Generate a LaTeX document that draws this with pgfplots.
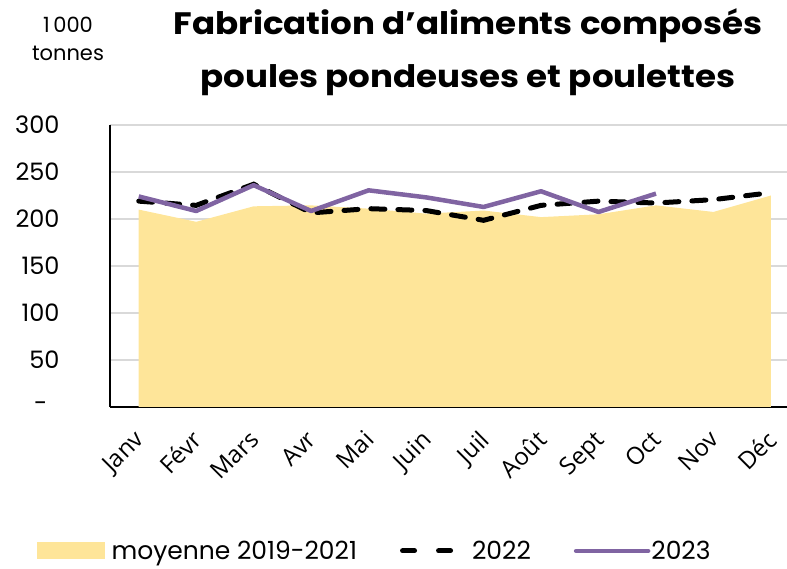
\documentclass[border=0pt]{standalone}
\usepackage{fontspec}
\setmainfont{Poppins}
\newfontfamily\opensans{Open Sans}
\usepackage{pgfplots}
\pgfplotsset{compat=1.18}
\definecolor{avgyellow}{HTML}{FEE599}
\definecolor{purp}{HTML}{8064A2}
\definecolor{gridgray}{HTML}{D9D9D9}
\begin{document}
\begin{tikzpicture}[x=1pt,y=1pt]
\begin{axis}[
  at={(110pt,162pt)}, anchor=south west,
  scale only axis, width=677pt, height=282pt,
  xmin=-0.5, xmax=11.28, ymin=0, ymax=300,
  axis lines*=left,
  axis line style={black, line width=1.5pt},
  x axis line style={-}, y axis line style={-},
  ytick={0,50,100,150,200,250,300},
  yticklabels={{-\hspace*{12pt}},50,100,150,200,250,300},
  ymajorgrids, grid style={gridgray, line width=1.2pt},
  xtick={0,...,11},
  xticklabels={Janv,Févr,Mars,Avr,Mai,Juin,Juil,Août,Sept,Oct,Nov,Déc},
  x tick label style={rotate=45, anchor=north east, font=\opensans\fontsize{24}{27}\selectfont, xshift=-16pt, yshift=-8pt},
  y tick label style={font=\fontsize{24}{28}\selectfont, xshift=-47pt, anchor=east},
  major tick length=0pt,
  /pgf/number format/assume math mode=true,
  legend columns=3,
  legend style={at={(0.39,-0.51)}, anchor=center, draw=none, fill=none,
    font=\fontsize{25}{28}\selectfont, nodes={inner sep=1pt},
    /tikz/every even column/.append style={column sep=42pt}},
]
\addplot[fill=avgyellow, draw=none, area legend,
  legend image code/.code={\fill[avgyellow] (0pt,-8.5pt) rectangle (68pt,8.5pt);}]
  coordinates {(0,210) (1,197) (2,213.5) (3,214.5) (4,211) (5,205.7) (6,209) (7,202) (8,205) (9,214.5) (10,207.5) (11,225)}
  \closedcycle;
\addlegendentry{\hspace{6pt}moyenne 2019-2021}
\addplot[black, line width=5pt, dash pattern=on 14pt off 13pt, line cap=round,
  legend image code/.code={\draw[black, line width=5pt, line cap=round, dash pattern=on 12pt off 24pt] (3pt,0pt) -- (63pt,0pt);}]
  coordinates {(0,219) (1,214.5) (2,237) (3,206.5) (4,211) (5,209) (6,198.6) (7,214.5) (8,219) (9,217) (10,220.6) (11,228)};
\addlegendentry{\hspace{6pt}2022}
\addplot[purp, line width=4.5pt, line join=round,
  legend image code/.code={\draw[purp, line width=4.5pt, line cap=round] (0pt,0pt) -- (72pt,0pt);}]
  coordinates {(0,224) (1,208.5) (2,236) (3,208.5) (4,230.5) (5,223) (6,212.8) (7,229.5) (8,207.5) (9,227)};
\addlegendentry{2023}
\end{axis}
\node[font=\fontsize{21}{24}\selectfont, anchor=base] at (68pt,536pt) {1\,000};
\node[font=\fontsize{21}{24}\selectfont, anchor=base] at (68pt,508pt) {tonnes};
\node[font=\bfseries\fontsize{31}{34}\selectfont, anchor=base] at (468pt,534pt) {\scalebox{1.1}[1]{Fabrication d'aliments composés}};
\node[font=\bfseries\fontsize{31}{34}\selectfont, anchor=base] at (468pt,481pt) {\scalebox{1.1}[1]{poules pondeuses et poulettes}};
\pgfresetboundingbox
\useasboundingbox (0,0) rectangle (787pt,569pt);
\end{tikzpicture}
\end{document}
